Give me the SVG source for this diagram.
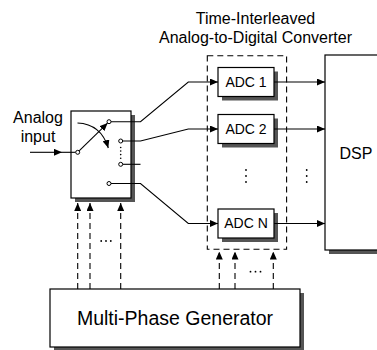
<svg xmlns="http://www.w3.org/2000/svg" width="377" height="350" viewBox="0 0 377 350">
<style>
.box{fill:#fff;stroke:#000;stroke-width:1.2}
.shadow{fill:#555;stroke:none}
.ln{fill:none;stroke:#000;stroke-width:1.1}
.dash{fill:none;stroke:#000;stroke-width:1.1;stroke-dasharray:6,4}
.pin{fill:#fff;stroke:#000;stroke-width:1}
.dot{fill:#000}
text{font-family:"Liberation Sans",Arial,sans-serif;fill:#000}
</style>
<defs>
<marker id="arr" viewBox="0 0 8 7" markerWidth="8" markerHeight="7" refX="8" refY="3.5" orient="auto" markerUnits="userSpaceOnUse">
<path d="M0,0 L8,3.5 L0,7 z" fill="#000"/>
</marker>
</defs>
<rect width="377" height="350" fill="#fff"/>

<g id="title">
<text x="255.5" y="24" font-size="16" text-anchor="middle">Time-Interleaved</text>
<text x="255.5" y="43" font-size="16" text-anchor="middle">Analog-to-Digital Converter</text>
</g>

<g id="input-label">
<text x="38" y="123" font-size="16" text-anchor="middle">Analog</text>
<text x="38" y="141.5" font-size="16" text-anchor="middle">input</text>
</g>

<g id="switch">
<rect class="shadow" x="75" y="115" width="60" height="87"/>
<rect class="box" x="71" y="111" width="60" height="87"/>
</g>

<g id="tiadc-frame">
<rect class="dash" x="207.3" y="55.7" width="79.3" height="193.6" fill="none"/>
</g>

<g id="adc1">
<rect class="shadow" x="222" y="71.5" width="56" height="29"/>
<rect class="box" x="218" y="67.5" width="56" height="29"/>
<text x="246" y="86.8" font-size="14" text-anchor="middle">ADC 1</text>
</g>
<g id="adc2">
<rect class="shadow" x="222" y="118.5" width="56" height="29"/>
<rect class="box" x="218" y="114.5" width="56" height="29"/>
<text x="246" y="133.8" font-size="14" text-anchor="middle">ADC 2</text>
</g>
<g id="adcn">
<rect class="shadow" x="222" y="213" width="56" height="29"/>
<rect class="box" x="218" y="209" width="56" height="29"/>
<text x="246" y="228.3" font-size="14" text-anchor="middle">ADC N</text>
</g>

<g id="dsp">
<rect class="shadow" x="329" y="59" width="60" height="195"/>
<rect class="box" x="325" y="55" width="60" height="195"/>
<text x="356" y="158.5" font-size="16" text-anchor="middle">DSP</text>
</g>

<g id="generator">
<rect class="shadow" x="54" y="293" width="250" height="58"/>
<rect class="box" x="50" y="289" width="250" height="58"/>
<text x="175" y="324.5" font-size="19.5" text-anchor="middle">Multi-Phase Generator</text>
</g>

<g id="connectors">
<!-- analog input -->
<path class="ln" d="M30,152.3 H62" marker-end="url(#arr)"/>
<path class="ln" d="M62,152.3 H75.7"/>
<!-- switch arm -->
<path class="ln" d="M79.1,150.9 L107.6,123.1" marker-end="url(#arr)"/>
<!-- rotation arrow -->
<path class="ln" d="M77.5,123 Q101,124 108.3,148" marker-end="url(#arr)"/>
<!-- switch outputs -->
<path class="ln" d="M111,121.7 H140.5 L188.3,82 H218" marker-end="url(#arr)"/>
<path class="ln" d="M122.7,141 H140.5 L188.3,129 H218" marker-end="url(#arr)"/>
<path class="ln" d="M122.7,164.3 H140.5"/>
<path class="ln" d="M111,183.5 H140.5 L188.3,223.5 H218" marker-end="url(#arr)"/>
<!-- ADC outputs -->
<path class="ln" d="M274,82 H325" marker-end="url(#arr)"/>
<path class="ln" d="M274,129 H325" marker-end="url(#arr)"/>
<path class="ln" d="M274,223.5 H325" marker-end="url(#arr)"/>
<!-- clock phases to switch -->
<path class="dash" d="M77.7,289 V203" marker-end="url(#arr)"/>
<path class="dash" d="M90,289 V203" marker-end="url(#arr)"/>
<path class="dash" d="M120.7,289 V203" marker-end="url(#arr)"/>
<!-- clock phases to ADCs -->
<path class="dash" d="M219.3,289 V251.5" marker-end="url(#arr)"/>
<path class="dash" d="M235,289 V251.5" marker-end="url(#arr)"/>
<path class="dash" d="M273.3,289 V251.5" marker-end="url(#arr)"/>
</g>

<g id="pins">
<circle class="pin" cx="77.7" cy="152.3" r="2"/>
<circle class="pin" cx="109" cy="121.7" r="2"/>
<circle class="pin" cx="120.7" cy="141" r="2"/>
<circle class="pin" cx="120.7" cy="164.3" r="2"/>
<circle class="pin" cx="109" cy="183.5" r="2"/>
</g>

<g id="ellipses">
<circle class="dot" cx="120.7" cy="147.5" r="0.8"/>
<circle class="dot" cx="120.7" cy="151" r="0.8"/>
<circle class="dot" cx="120.7" cy="154.6" r="0.8"/>
<circle class="dot" cx="120.7" cy="158.2" r="0.8"/>
<circle class="dot" cx="246" cy="170" r="0.9"/>
<circle class="dot" cx="246" cy="176" r="0.9"/>
<circle class="dot" cx="246" cy="182" r="0.9"/>
<circle class="dot" cx="306.7" cy="170" r="0.9"/>
<circle class="dot" cx="306.7" cy="176" r="0.9"/>
<circle class="dot" cx="306.7" cy="182" r="0.9"/>
<circle class="dot" cx="101.2" cy="241" r="0.9"/>
<circle class="dot" cx="106" cy="241" r="0.9"/>
<circle class="dot" cx="110.8" cy="241" r="0.9"/>
<circle class="dot" cx="250.5" cy="271.7" r="0.9"/>
<circle class="dot" cx="255.5" cy="271.7" r="0.9"/>
<circle class="dot" cx="260.5" cy="271.7" r="0.9"/>
</g>
</svg>
